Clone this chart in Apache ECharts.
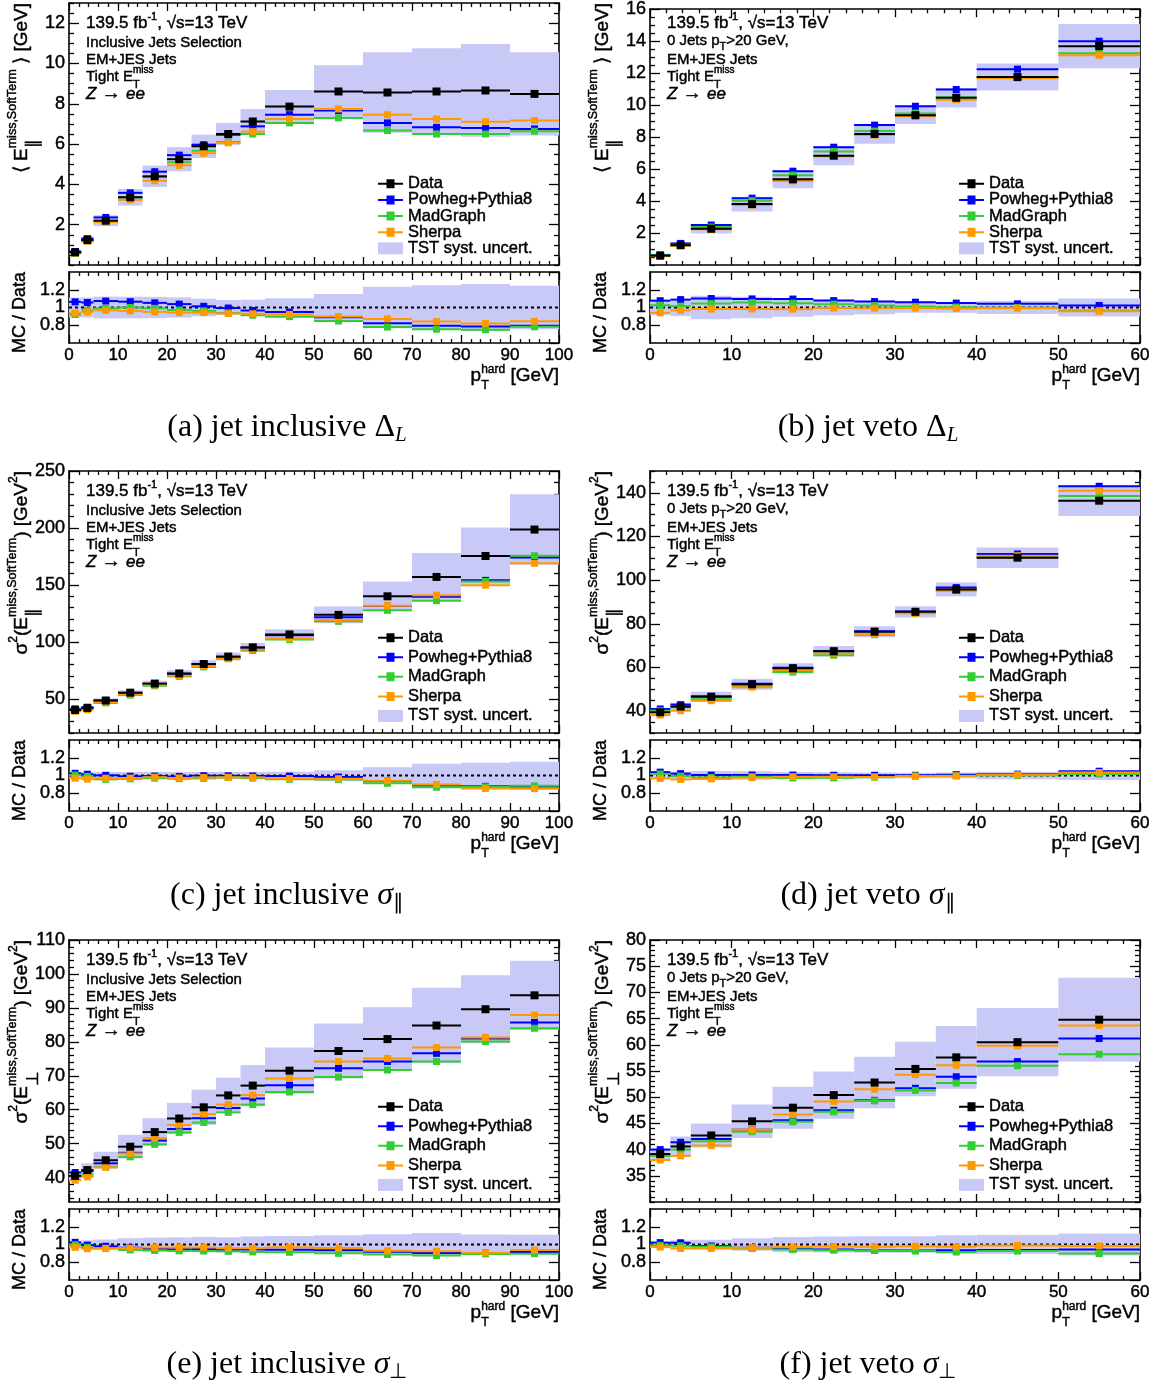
<!DOCTYPE html>
<html><head><meta charset="utf-8">
<script src="https://cdn.jsdelivr.net/npm/echarts@6/dist/echarts.min.js"></script>
<style>html,body{margin:0;padding:0;background:#fff}#c{width:1157px;height:1384px}</style>
</head><body><div id="c"></div>
<script>
// ---------------- DATA ----------------
const binsIncl = [0, 2.5, 5, 10, 15, 20, 25, 30, 35, 40, 50, 60, 70, 80, 90, 100];
const binsVeto = [0, 2.5, 5, 10, 15, 20, 25, 30, 35, 40, 50, 60];

// (a) jet inclusive Delta_L : <E_par^{miss,SoftTerm}> [GeV]
const aData     = [0.63, 1.24, 2.20, 3.36, 4.40, 5.25, 5.89, 6.50, 7.12, 7.86, 8.61, 8.56, 8.61, 8.66, 8.49];
const aPowheg   = [0.67, 1.31, 2.36, 3.58, 4.63, 5.45, 5.97, 6.46, 6.88, 7.46, 7.66, 7.05, 6.83, 6.80, 6.75];
const aMadGraph = [0.58, 1.20, 2.18, 3.36, 4.36, 5.10, 5.67, 6.10, 6.50, 7.05, 7.30, 6.67, 6.50, 6.50, 6.64];
const aSherpa   = [0.59, 1.18, 2.13, 3.23, 4.18, 4.95, 5.55, 6.06, 6.62, 7.25, 7.74, 7.46, 7.24, 7.11, 7.17];
const aUnc      = [0.07, 0.14, 0.27, 0.41, 0.53, 0.60, 0.58, 0.55, 0.62, 0.82, 1.30, 2.00, 2.15, 2.30, 2.07];

// (b) jet veto Delta_L
const bData     = [0.585, 1.24, 2.27, 3.81, 5.36, 6.84, 8.20, 9.37, 10.46, 11.76, 13.69];
const bPowheg   = [0.63, 1.35, 2.50, 4.18, 5.87, 7.37, 8.75, 9.93, 10.98, 12.25, 14.00];
const bMadGraph = [0.60, 1.26, 2.37, 4.02, 5.62, 7.10, 8.38, 9.47, 10.50, 11.74, 13.24];
const bSherpa   = [0.55, 1.20, 2.23, 3.75, 5.26, 6.80, 8.13, 9.31, 10.34, 11.68, 13.12];
const bUnc      = [0.05, 0.12, 0.30, 0.46, 0.56, 0.60, 0.62, 0.55, 0.61, 0.85, 1.39];

// (c) jet inclusive sigma_par : sigma^2 [GeV^2]
const cData     = [40.2, 42.0, 48.5, 55.4, 63.4, 72.3, 80.6, 87.1, 95.2, 106.5, 123.7, 140.0, 157.0, 175.4, 198.6];
const cPowheg   = [41.2, 42.6, 48.6, 54.9, 63.0, 71.5, 80.4, 86.8, 94.7, 105.8, 121.6, 131.5, 139.5, 154.0, 174.0];
const cMadGraph = [40.4, 41.6, 46.4, 53.3, 61.5, 69.7, 78.0, 85.3, 92.4, 102.0, 118.0, 127.7, 136.2, 153.0, 175.6];
const cSherpa   = [39.0, 40.3, 47.0, 53.8, 62.2, 70.3, 78.8, 85.2, 93.2, 102.9, 119.3, 131.8, 141.0, 149.8, 169.0];
const cUnc      = [1.6, 1.7, 1.9, 2.2, 2.5, 2.9, 3.2, 3.5, 3.9, 4.5, 7.4, 13.0, 21.0, 25.0, 31.0];

// (d) jet veto sigma_par
const dData     = [39.5, 42.1, 46.6, 52.3, 59.6, 67.4, 76.4, 85.5, 95.7, 110.3, 136.4];
const dPowheg   = [41.0, 43.0, 46.8, 52.6, 59.9, 67.6, 76.6, 85.7, 96.6, 112.0, 143.0];
const dMadGraph = [40.2, 41.8, 45.5, 51.6, 57.9, 65.6, 75.0, 85.0, 95.4, 110.5, 138.6];
const dSherpa   = [38.2, 40.2, 44.8, 51.0, 58.8, 66.5, 75.2, 84.8, 95.2, 111.2, 141.0];
const dUnc      = [1.3, 1.8, 2.3, 2.5, 2.3, 2.4, 2.5, 2.6, 3.2, 4.7, 7.0];

// (e) jet inclusive sigma_perp
const eData     = [40.5, 42.2, 45.1, 49.1, 53.4, 57.4, 60.7, 64.2, 67.1, 71.5, 77.3, 80.8, 84.8, 89.6, 93.7];
const ePowheg   = [41.5, 41.9, 44.2, 47.3, 50.9, 54.3, 57.5, 60.5, 63.3, 67.2, 72.2, 74.2, 76.6, 81.0, 85.7];
const eMadGraph = [40.4, 40.9, 43.2, 46.1, 49.8, 53.3, 56.2, 59.2, 61.5, 65.2, 69.6, 71.7, 74.2, 80.1, 84.0];
const eSherpa   = [39.2, 40.2, 43.0, 47.1, 51.6, 55.5, 58.7, 61.5, 64.3, 69.2, 74.2, 75.1, 78.3, 81.3, 87.9];
const eUnc      = [1.5, 2.0, 2.5, 3.5, 4.1, 4.6, 5.2, 5.2, 6.1, 6.8, 8.1, 9.4, 11.1, 10.0, 10.2];

// (f) jet veto sigma_perp
const fData     = [39.15, 40.6, 42.7, 45.4, 48.0, 50.4, 52.8, 55.4, 57.6, 60.5, 64.8];
const fPowheg   = [40.0, 41.4, 42.0, 43.8, 45.6, 47.5, 49.4, 51.7, 53.9, 56.8, 61.2];
const fMadGraph = [38.8, 40.0, 41.6, 43.4, 45.3, 47.2, 49.3, 51.3, 52.7, 56.0, 58.2];
const fSherpa   = [38.0, 38.8, 40.8, 43.8, 46.7, 49.2, 51.5, 54.3, 56.1, 59.8, 63.7];
const fUnc      = [1.1, 1.9, 2.3, 3.2, 4.0, 4.5, 4.9, 5.2, 6.0, 6.5, 8.0];

// tick labels
const aYTicks = [2, 4, 6, 8, 10, 12];
const bYTicks = [2, 4, 6, 8, 10, 12, 14, 16];
const cYTicks = [50, 100, 150, 200, 250];
const dYTicks = [40, 60, 80, 100, 120, 140];
const eYTicks = [40, 50, 60, 70, 80, 90, 100, 110];
const fYTicks = [35, 40, 45, 50, 55, 60, 65, 70, 75, 80];
const ratioYLabels = ['0.8', '1', '1.2'];
const xTicksIncl = [0, 10, 20, 30, 40, 50, 60, 70, 80, 90, 100];
const xTicksVeto = [0, 10, 20, 30, 40, 50, 60];

const seriesNames = ['Data', 'Powheg+Pythia8', 'MadGraph', 'Sherpa'];
const bandName = 'TST syst. uncert.';

// ---------------- STYLE ----------------
const FONT = '"Liberation Sans", Arial, Helvetica, sans-serif';
const SERIF = '"Liberation Serif", "Times New Roman", serif';
const BAND = '#c9c9f8';
const COLORS = ['#000000', '#0000ff', '#33cc33', '#ff9900'];
const HEAVY = 0.45;

const colX = [69, 650], W = 490;
const rowY = [3, 471, 940], MH = 262, RGAP = 269, RH = 71;

const panels = [
  {edges: binsIncl, xmax: 100, ymin: 0, ymax: 13, yT: aYTicks, yStep: 0.5, v: [aData, aPowheg, aMadGraph, aSherpa], u: aUnc, sel: 'incl', yt: 'mean', sym: '∥', cap: ['(a) jet inclusive ', 'Δ', 'L']},
  {edges: binsVeto, xmax: 60, ymin: 0, ymax: 16, yT: bYTicks, yStep: 0.5, v: [bData, bPowheg, bMadGraph, bSherpa], u: bUnc, sel: 'veto', yt: 'mean', sym: '∥', cap: ['(b) jet veto ', 'Δ', 'L']},
  {edges: binsIncl, xmax: 100, ymin: 20, ymax: 250, yT: cYTicks, yStep: 10, v: [cData, cPowheg, cMadGraph, cSherpa], u: cUnc, sel: 'incl', yt: 'var', sym: '∥', cap: ['(c) jet inclusive ', 'σ', '∥']},
  {edges: binsVeto, xmax: 60, ymin: 30, ymax: 150, yT: dYTicks, yStep: 5, v: [dData, dPowheg, dMadGraph, dSherpa], u: dUnc, sel: 'veto', yt: 'var', sym: '∥', cap: ['(d) jet veto ', 'σ', '∥']},
  {edges: binsIncl, xmax: 100, ymin: 32.8, ymax: 110, yT: eYTicks, yStep: 2, v: [eData, ePowheg, eMadGraph, eSherpa], u: eUnc, sel: 'incl', yt: 'var', sym: '⊥', cap: ['(e) jet inclusive ', 'σ', '⊥']},
  {edges: binsVeto, xmax: 60, ymin: 30, ymax: 80, yT: fYTicks, yStep: 1, v: [fData, fPowheg, fMadGraph, fSherpa], u: fUnc, sel: 'veto', yt: 'var', sym: '⊥', cap: ['(f) jet veto ', 'σ', '⊥']}
];

// ---------------- TEXT HELPERS ----------------
const ctx = document.createElement('canvas').getContext('2d');
function tw(t, s, fam, wt, st) { ctx.font = `${st || 'normal'} ${wt || 'normal'} ${s}px ${fam}`; return ctx.measureText(t).width; }
function T(t, x, y, s, fam, wt, st, heavy) {
  return {type: 'text', x, y, silent: true, style: {text: t, fill: '#000', fontSize: s, fontFamily: fam, fontWeight: wt || 'normal', fontStyle: st || 'normal',
    align: 'left', textAlign: 'left', verticalAlign: 'middle', textVerticalAlign: 'middle',
    stroke: heavy ? '#000' : null, lineWidth: heavy || 0}};
}
function build(pieces, def) {
  let x = 0; const els = [];
  for (const p of pieces) {
    const fam = p.f || def.f, wt = p.w || def.w, st = p.i ? 'italic' : 'normal', hv = def.h;
    if (p.sup !== undefined) {
      const w1 = tw(p.sup, p.ss, fam, wt, 'normal'), w2 = tw(p.sub, p.bs, fam, wt, 'normal');
      els.push(T(p.sup, x, p.dyUp, p.ss, fam, wt, 'normal', hv));
      els.push(T(p.sub, x, p.dyDn, p.bs, fam, wt, 'normal', hv));
      x += Math.max(w1, w2);
    } else {
      const s = p.s || def.s;
      els.push(T(p.t, x, p.dy || 0, s, fam, wt, st, hv));
      x += tw(p.t, s, fam, wt, st);
    }
  }
  return {els, w: x};
}
function place(pieces, def, X, Y, align, rot) {
  const b = build(pieces, def);
  const off = align === 'right' ? -b.w : align === 'center' ? -b.w / 2 : 0;
  b.els.forEach(e => { e.x += off; });
  return {type: 'group', x: X, y: Y, rotation: rot ? Math.PI / 2 : 0, children: b.els, silent: true};
}

// ---------------- BUILD ----------------
const grids = [], xAxes = [], yAxes = [], series = [], legends = [], graphics = [];

function stepsFrom(a, b, step, exclude) {
  const out = [];
  const start = Math.ceil(a / step - 1e-9) * step;
  for (let v = start; v <= b + 1e-9; v += step) {
    const r = Math.round(v * 1000) / 1000;
    if (!exclude.some(e => Math.abs(e - r) < 1e-6)) out.push(r);
  }
  return out;
}
function mkAxis(gi, pos, min, max, ticks, len, line, labels, isX) {
  return {
    type: 'value', gridIndex: gi, position: pos, min, max,
    axisLine: {show: line, onZero: false, lineStyle: {color: '#000', width: 1.6}},
    axisTick: {show: ticks.length > 0, inside: true, length: len, customValues: ticks, lineStyle: {color: '#000', width: 1.3}},
    axisLabel: {show: labels, customValues: ticks, margin: 4, fontSize: isX ? 17 : 18, fontFamily: FONT, color: '#000',
      textBorderColor: '#000', textBorderWidth: HEAVY, hideOverlap: false},
    splitLine: {show: false}, minorTick: {show: false}
  };
}
// ratio y axis: fixed interval from min (0.6 = 3 x 0.2)
function mkRatioY(gi, pos, labels) {
  return {
    type: 'value', gridIndex: gi, position: pos, min: 0.6, max: 1.4, interval: 0.2,
    axisLine: {show: true, onZero: false, lineStyle: {color: '#000', width: 1.6}},
    axisTick: {show: true, inside: true, length: 10, lineStyle: {color: '#000', width: 1.3}},
    axisLabel: {show: labels, margin: 4, fontSize: 18, fontFamily: FONT, color: '#000', textBorderColor: '#000', textBorderWidth: HEAVY,
      showMinLabel: false, showMaxLabel: false, hideOverlap: false,
      formatter: v => { const s = (+v).toFixed(1).replace(/\.0$/, ''); return ratioYLabels.indexOf(s) >= 0 ? s : ''; }},
    splitLine: {show: false}, minorTick: {show: false}
  };
}
function addAxes(gi, xmin, xmax, xMaj, xMin, xLab, ymin, ymax, yMaj, yMin, ratio) {
  xAxes.push(mkAxis(gi, 'bottom', xmin, xmax, xMaj, 8, true, xLab, true));
  xAxes.push(mkAxis(gi, 'bottom', xmin, xmax, xMin, 4, false, false, true));
  xAxes.push(mkAxis(gi, 'top', xmin, xmax, xMaj, 8, true, false, true));
  xAxes.push(mkAxis(gi, 'top', xmin, xmax, xMin, 4, false, false, true));
  if (ratio) {
    yAxes.push(mkRatioY(gi, 'left', true));
    yAxes.push(mkAxis(gi, 'left', ymin, ymax, [], 5, false, false, false));
    yAxes.push(mkRatioY(gi, 'right', false));
    yAxes.push(mkAxis(gi, 'right', ymin, ymax, [], 5, false, false, false));
  } else {
    yAxes.push(mkAxis(gi, 'left', ymin, ymax, yMaj, 10, true, true, false));
    yAxes.push(mkAxis(gi, 'left', ymin, ymax, yMin, 5, false, false, false));
    yAxes.push(mkAxis(gi, 'right', ymin, ymax, yMaj, 10, true, false, false));
    yAxes.push(mkAxis(gi, 'right', ymin, ymax, yMin, 5, false, false, false));
  }
  return 4 * gi;
}

function stepRender(color, size, lw) {
  return function (params, api) {
    const lo = api.value(0), hi = api.value(1), y = api.value(2);
    const a = api.coord([lo, y]), b = api.coord([hi, y]);
    const c = api.coord([(lo + hi) / 2, y]);
    return {type: 'group', children: [
      {type: 'line', shape: {x1: a[0], y1: a[1], x2: b[0], y2: b[1]}, style: {stroke: color, lineWidth: lw}},
      {type: 'rect', shape: {x: c[0] - size / 2, y: c[1] - size / 2, width: size, height: size}, style: {fill: color}}
    ]};
  };
}
function bandRender(params, api) {
  const a = api.coord([api.value(0), api.value(3)]), b = api.coord([api.value(1), api.value(2)]);
  return {type: 'rect', shape: {x: a[0], y: a[1], width: b[0] - a[0], height: b[1] - a[1]}, style: {fill: BAND}};
}
function unityRender(params, api) {
  const a = api.coord([api.value(0), api.value(2)]), b = api.coord([api.value(1), api.value(2)]);
  return {type: 'line', shape: {x1: a[0], y1: a[1], x2: b[0], y2: b[1]}, style: {stroke: '#000', lineWidth: 2, lineDash: [3, 3]}};
}

const LEGEND_ICON = 'path://M0,5 L8.5,5 L8.5,1.5 L16.5,1.5 L16.5,5 L25,5 L25,7 L16.5,7 L16.5,10.5 L8.5,10.5 L8.5,7 L0,7 Z';

panels.forEach((p, k) => {
  const col = k % 2, row = Math.floor(k / 2);
  const L = colX[col], top = rowY[row];
  const gm = 2 * k, gr = 2 * k + 1;
  grids.push({left: L, top: top, width: W, height: MH});
  grids.push({left: L, top: top + RGAP, width: W, height: RH});
  const xMaj = p.xmax === 100 ? xTicksIncl : xTicksVeto;
  const xMin = stepsFrom(0, p.xmax, 2, xMaj);
  const yMin = stepsFrom(p.ymin, p.ymax, p.yStep, p.yT);
  const am = addAxes(gm, 0, p.xmax, xMaj, xMin, false, p.ymin, p.ymax, p.yT, yMin, false);
  const ar = addAxes(gr, 0, p.xmax, xMaj, xMin, true, 0.6, 1.4, [], [], true);

  const e = p.edges, d = p.v[0];
  series.push({type: 'custom', name: bandName, xAxisIndex: am, yAxisIndex: am, itemStyle: {color: BAND},
    renderItem: bandRender, encode: {x: [0, 1], y: [2, 3]},
    data: d.map((v, i) => [e[i], e[i + 1], v - p.u[i], v + p.u[i]])});
  series.push({type: 'custom', name: bandName, xAxisIndex: ar, yAxisIndex: ar, itemStyle: {color: BAND},
    renderItem: bandRender, encode: {x: [0, 1], y: [2, 3]},
    data: d.map((v, i) => [e[i], e[i + 1], 1 - p.u[i] / v, 1 + p.u[i] / v])});
  series.push({type: 'custom', name: 'unity', xAxisIndex: ar, yAxisIndex: ar, renderItem: unityRender, encode: {x: [0, 1], y: 2}, data: [[0, p.xmax, 1]], z: 3});
  [1, 2, 3, 0].forEach(si => {
    const vals = p.v[si];
    series.push({type: 'custom', name: seriesNames[si], xAxisIndex: am, yAxisIndex: am, itemStyle: {color: COLORS[si]},
      renderItem: stepRender(COLORS[si], si === 0 ? 8 : 7, 2), encode: {x: [0, 1], y: 2}, z: 4,
      data: vals.map((v, i) => [e[i], e[i + 1], v])});
    if (si !== 0) {
      series.push({type: 'custom', name: seriesNames[si], xAxisIndex: ar, yAxisIndex: ar, itemStyle: {color: COLORS[si]},
        renderItem: stepRender(COLORS[si], 7, 2), encode: {x: [0, 1], y: 2}, z: 4,
        data: vals.map((v, i) => [e[i], e[i + 1], v / d[i]])});
    }
  });

  // legend
  const lgTop = row === 0 ? top + 172 : top + 158;
  legends.push({
    left: L + 309, top: lgTop, orient: 'vertical', padding: 0, itemGap: row === 0 ? -1.3 : 2.1,
    itemWidth: 25, itemHeight: 12, selectedMode: false, itemStyle: {borderWidth: 0},
    textStyle: {fontSize: 16.5, fontFamily: FONT, color: '#000', lineHeight: 14, textBorderColor: '#000', textBorderWidth: HEAVY},
    data: [
      {name: 'Data', icon: LEGEND_ICON},
      {name: 'Powheg+Pythia8', icon: LEGEND_ICON},
      {name: 'MadGraph', icon: LEGEND_ICON},
      {name: 'Sherpa', icon: LEGEND_ICON},
      {name: bandName, icon: 'rect'}
    ]
  });

  // annotations
  const ax = L + 17;
  const def15 = {s: 15, f: FONT, w: 'normal', h: HEAVY};
  graphics.push(place([{t: '139.5 fb'}, {t: '-1', s: 11, dy: -6}, {t: ', √s=13 TeV'}], {s: 17, f: FONT, w: 'normal', h: HEAVY}, ax, top + 20, 'left'));
  if (p.sel === 'incl') graphics.push(place([{t: 'Inclusive Jets Selection'}], def15, ax, top + 40, 'left'));
  else graphics.push(place([{t: '0 Jets p'}, {t: 'T', s: 11, dy: 6}, {t: '>20 GeV,'}], def15, ax, top + 38, 'left'));
  graphics.push(place([{t: 'EM+JES Jets'}], def15, ax, top + 57, 'left'));
  graphics.push(place([{t: 'Tight E'}, {sup: 'miss', sub: 'T', ss: 10, bs: 11, dyUp: -7, dyDn: 8}], def15, ax, top + 74, 'left'));
  graphics.push(place([{t: 'Z', i: true, s: 17}, {t: ' → ', s: 19}, {t: 'ee', i: true, s: 17}], def15, ax, top + 91, 'left'));

  // y title main
  const defT = {s: 19, f: FONT, w: 'normal', h: HEAVY};
  const stack = {sup: 'miss,SoftTerm', sub: p.sym, ss: 12.5, bs: 17, dyUp: -9, dyDn: 11};
  const ytPieces = p.yt === 'mean'
    ? [{t: '⟨ E'}, stack, {t: ' ⟩ [GeV]'}]
    : [{t: 'σ'}, {t: '2', s: 12, dy: -8}, {t: '(E'}, stack, {t: ') [GeV'}, {t: '2', s: 12, dy: -8}, {t: ']'}];
  graphics.push(place(ytPieces, defT, L - 47, top, 'right', true));
  graphics.push(place([{t: 'MC / Data'}], {s: 18, f: FONT, w: 'normal', h: HEAVY}, L - 49, top + RGAP, 'right', true));
  // x title
  graphics.push(place([{t: 'p'}, {sup: 'hard', sub: 'T', ss: 12, bs: 12.5, dyUp: -6, dyDn: 10}, {t: ' [GeV]'}], defT, L + W, top + RGAP + RH + 33, 'right'));
  // caption
  graphics.push(place([{t: p.cap[0]}, {t: p.cap[1], i: p.cap[1] === 'σ'}, {t: p.cap[2], s: 21, dy: 7, i: p.cap[2] === 'L'}],
    {s: 32, f: SERIF, w: 'normal', h: 0}, L + 218, top + 425, 'center'));
});

const chart = echarts.init(document.getElementById('c'), null, {renderer: 'canvas'});
chart.setOption({
  animation: false,
  backgroundColor: '#fff',
  grid: grids, xAxis: xAxes, yAxis: yAxes, series, legend: legends,
  graphic: {elements: graphics}
});
</script>
</body></html>
